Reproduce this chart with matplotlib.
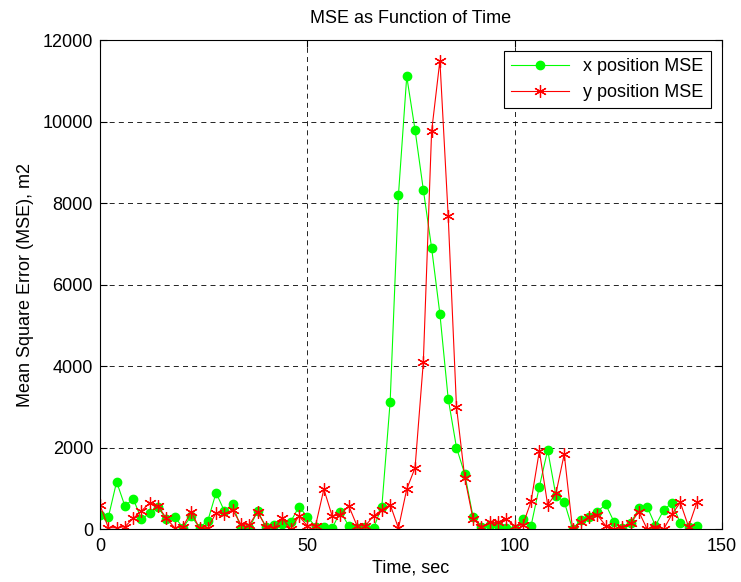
import numpy as np
import matplotlib
matplotlib.use("Agg")
import matplotlib.pyplot as plt

plt.rcParams['font.family'] = ['Liberation Sans', 'DejaVu Sans']

# time samples (sec)
time_sec = np.arange(0, 146, 2)

x_mse = [343, 287, 1160, 564, 745, 237, 400, 532, 237, 303,
         33, 319, 33, 204, 891, 442, 613, 16, 16, 442,
         57, 98, 115, 180, 550, 300, 60, 40, 20, 425,
         80, 20, 60, 20, 550, 3130, 8200, 11110, 9800, 8330,
         6900, 5280, 3200, 2000, 1350, 300, 50, 100, 100, 16,
         0, 240, 82, 1040, 1940, 818, 671, 0, 220, 286,
         425, 605, 180, 20, 139, 507, 548, 82, 466, 646,
         139, 57, 82]

y_mse = [589, 33, 33, 57, 262, 442, 646, 564, 262, 33,
         57, 425, 16, 16, 400, 380, 466, 115, 98, 425,
         57, 16, 262, 0, 320, 80, 80, 980, 320, 345,
         570, 80, 80, 320, 470, 600, 20, 980, 1500, 4100,
         9760, 11500, 7680, 3000, 1260, 245, 57, 164, 164, 245,
         82, 98, 680, 1920, 590, 875, 1840, 0, 163, 303,
         343, 82, 0, 57, 139, 425, 0, 57, 0, 360,
         655, 57, 655]

fig = plt.figure(figsize=(7.41, 5.82), dpi=100)
ax = fig.add_axes([0.135, 0.091, 0.839, 0.840])

ax.plot(time_sec, x_mse, color='#00ff00', linewidth=0.8, marker='o',
        markersize=6, markeredgecolor='#00ff00', label='x position MSE')
ax.plot(time_sec, y_mse, color='#ff0000', linewidth=0.8, marker=(6, 2, 0),
        markersize=9, markeredgewidth=0.9, label='y position MSE')

ax.set_xlim(0, 150)
ax.set_ylim(0, 12000)
ax.set_xticks([0, 50, 100, 150])
ax.set_yticks(np.arange(0, 12001, 2000))
ax.tick_params(direction='in', top=True, right=True, labelsize=13, length=5)
ax.tick_params(axis='x', pad=6.5)
ax.tick_params(axis='y', pad=5)
ax.grid(True, color='black', linestyle=(0, (6, 5)), linewidth=0.6)

ax.set_title("MSE as Function of Time", fontsize=13, pad=12)
ax.set_xlabel("Time, sec", fontsize=13, labelpad=3)
ax.set_ylabel("Mean Square Error (MSE), m2", fontsize=13, labelpad=6)

leg = ax.legend(loc='upper right', fontsize=13, fancybox=False,
                edgecolor='black', framealpha=1, borderaxespad=0.6,
                handlelength=3.2)
leg.get_frame().set_linewidth(0.8)

fig.savefig("out.png", dpi=100)
